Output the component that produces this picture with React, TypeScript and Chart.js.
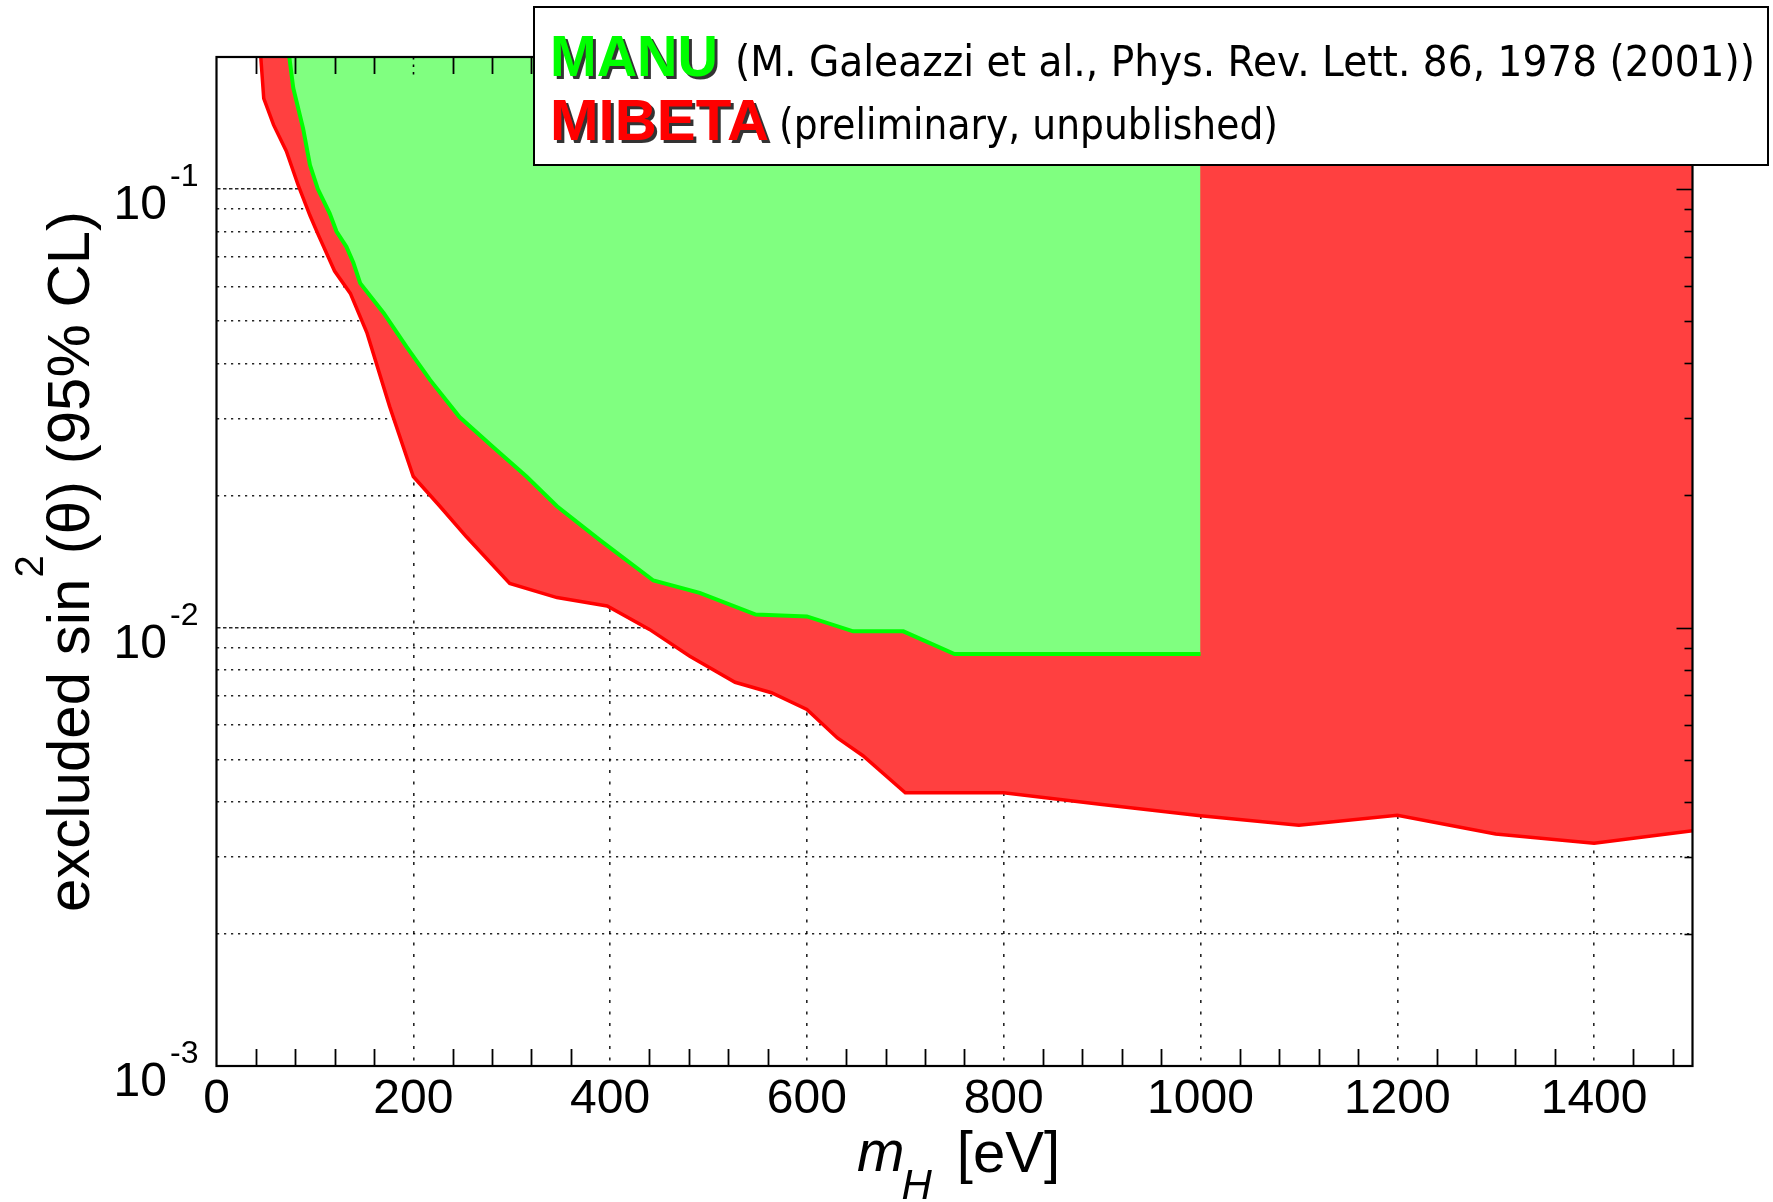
import { useEffect, useRef } from "react";
import { Chart, registerables } from "chart.js";

Chart.register(...registerables);

// MIBETA exclusion boundary (preliminary): mass [eV] vs excluded sin^2(theta)
const mibetaMass = [45, 48, 58, 71, 83, 95, 103, 120, 136, 153, 176, 200, 227, 254, 298, 346, 397, 440, 481, 527, 564, 600, 631, 657, 700, 800, 900, 1000, 1100, 1200, 1300, 1400, 1500];
const mibetaLimit = [0.2, 0.161, 0.14, 0.122, 0.102, 0.087, 0.079, 0.065, 0.0578, 0.0469, 0.0319, 0.0221, 0.0189, 0.0161, 0.0126, 0.0117, 0.0112, 0.0099, 0.0086, 0.0075, 0.0071, 0.0065, 0.0056, 0.0051, 0.0042, 0.0042, 0.00395, 0.00372, 0.00354, 0.00373, 0.00338, 0.00322, 0.00344];

// MANU exclusion boundary (Galeazzi et al. 2001)
const manuMass = [74, 78, 88, 95, 103, 115, 122, 132, 139, 146, 170, 193, 217, 247, 281, 315, 346, 390, 444, 491, 548, 600, 647, 698, 750, 1000];
const manuLimit = [0.2, 0.17, 0.1375, 0.1134, 0.1, 0.088, 0.08, 0.0739, 0.068, 0.061, 0.0521, 0.0437, 0.0367, 0.0302, 0.0258, 0.0221, 0.0189, 0.0158, 0.0128, 0.012, 0.0107, 0.0106, 0.0098, 0.0098, 0.0087, 0.0087];

// axis ticks
const xTickValues = [0, 200, 400, 600, 800, 1000, 1200, 1400];
const yGridValues = [0.001, 0.002, 0.003, 0.004, 0.005, 0.006, 0.007, 0.008, 0.009, 0.01, 0.02, 0.03, 0.04, 0.05, 0.06, 0.07, 0.08, 0.09, 0.1];
const yDecadeValues = [0.001, 0.01, 0.1];
const yDecadeExponents = ["-3", "-2", "-1"];

const X_MIN = 0;
const X_MAX = 1500;
const Y_MIN = 0.001;
const Y_MAX = 0.2;
const MINOR_X_STEP = 40;

const FONT = '"Liberation Sans", Arial, Helvetica, sans-serif';
const NOTE_FONT = '"DejaVu Sans", "Liberation Sans", sans-serif';

const isDecade = (v: number) => yDecadeValues.some((d) => Math.abs(d - v) < 1e-12);

function fittedText(ctx: CanvasRenderingContext2D, text: string, x: number, y: number, font: string, width: number) {
  ctx.font = font;
  const w = ctx.measureText(text).width;
  ctx.save();
  ctx.translate(x, y);
  ctx.scale(width / w, 1);
  ctx.fillText(text, 0, 0);
  ctx.restore();
}

function shadowedText(ctx: CanvasRenderingContext2D, text: string, x: number, y: number, width: number, color: string) {
  const font = `bold 57px ${FONT}`;
  ctx.fillStyle = "rgba(0,0,0,0.8)";
  fittedText(ctx, text, x + 3, y + 3, font, width);
  ctx.fillStyle = color;
  fittedText(ctx, text, x, y, font, width);
}

const framePlugin = {
  id: "frame",
  afterDatasetsDraw(chart: any) {
    const { ctx, chartArea } = chart;
    const { left, right, top, bottom } = chartArea;
    const xs = chart.scales.x;
    const ys = chart.scales.y;
    ctx.save();
    ctx.strokeStyle = "#000";
    // minor ticks on bottom and top edges
    ctx.lineWidth = 1.8;
    for (let v = MINOR_X_STEP; v < X_MAX; v += MINOR_X_STEP) {
      if (v % 200 === 0) continue;
      const px = Math.round(xs.getPixelForValue(v)) + 0.5;
      ctx.beginPath();
      ctx.moveTo(px, bottom);
      ctx.lineTo(px, bottom - 17);
      ctx.moveTo(px, top);
      ctx.lineTo(px, top + 17);
      ctx.stroke();
    }
    // dotted major ticks along the top edge
    ctx.setLineDash([2.5, 5]);
    ctx.lineWidth = 1.6;
    for (const v of xTickValues) {
      if (v === X_MIN) continue;
      const px = Math.round(xs.getPixelForValue(v)) + 0.5;
      ctx.beginPath();
      ctx.moveTo(px, top);
      ctx.lineTo(px, top + 18);
      ctx.stroke();
    }
    ctx.setLineDash([]);
    // short ticks on the right edge
    ctx.lineWidth = 1.6;
    for (const v of yGridValues) {
      if (v === Y_MIN) continue;
      const py = Math.round(ys.getPixelForValue(v)) + 0.5;
      ctx.beginPath();
      ctx.moveTo(right, py);
      ctx.lineTo(right - (isDecade(v) ? 16 : 8), py);
      ctx.stroke();
    }
    // plot box
    ctx.lineWidth = 2.2;
    ctx.strokeRect(left, top, right - left, bottom - top);
    ctx.restore();
  },
  afterDraw(chart: any) {
    const { ctx, chartArea } = chart;
    const ys = chart.scales.y;
    ctx.save();
    ctx.fillStyle = "#000";
    ctx.textBaseline = "alphabetic";

    // decade labels 10^n
    yDecadeValues.forEach((v, i) => {
      const py = ys.getPixelForValue(v);
      ctx.font = `48px ${FONT}`;
      ctx.textAlign = "right";
      ctx.fillText("10", 167, py + 30);
      ctx.font = `32px ${FONT}`;
      ctx.textAlign = "left";
      ctx.fillText(yDecadeExponents[i], 170, py - 3);
    });

    // y axis title
    ctx.textAlign = "left";
    const main = `60px ${FONT}`;
    const sup = `40px ${FONT}`;
    const p1 = "excluded sin";
    const p2 = "2";
    const p3 = "(\u03b8) (95% CL)";
    ctx.font = main;
    const w1 = ctx.measureText(p1).width;
    const w3 = ctx.measureText(p3).width;
    ctx.font = sup;
    const w2 = ctx.measureText(p2).width + 2;
    const total = w1 + w2 + w3;
    ctx.save();
    ctx.translate(89, (chartArea.top + chartArea.bottom) / 2);
    ctx.rotate(-Math.PI / 2);
    let cx = -total / 2;
    ctx.font = main;
    ctx.fillText(p1, cx, 0);
    cx += w1;
    ctx.font = sup;
    ctx.fillText(p2, cx + 1, -46);
    cx += w2;
    ctx.font = main;
    ctx.fillText(p3, cx, 0);
    ctx.restore();

    // x axis title: m_H [eV]
    const mFont = `italic 57px ${FONT}`;
    const hFont = `italic 42px ${FONT}`;
    const uFont = `58px ${FONT}`;
    ctx.font = mFont;
    const wm = ctx.measureText("m").width;
    ctx.font = hFont;
    const wh = ctx.measureText("H").width;
    ctx.font = uFont;
    const wu = ctx.measureText("[eV]").width;
    const gap = 22;
    const xt = wm + wh + gap + wu;
    let tx = (chartArea.left + chartArea.right) / 2 + 4 - xt / 2;
    ctx.font = mFont;
    ctx.fillText("m", tx, 1171);
    tx += wm - 3;
    ctx.font = hFont;
    ctx.fillText("H", tx, 1199);
    tx += wh + 3 + gap;
    ctx.font = uFont;
    ctx.fillText("[eV]", tx, 1172);

    // annotation box
    const bx = 534, by = 7, bw = 1234, bh = 158;
    ctx.fillStyle = "#fff";
    ctx.fillRect(bx, by, bw, bh);
    ctx.strokeStyle = "#000";
    ctx.lineWidth = 2;
    ctx.strokeRect(bx, by, bw, bh);

    shadowedText(ctx, "MANU", 550, 76, 168, "#00ff00");
    shadowedText(ctx, "MIBETA", 550, 140, 219, "#ff0000");
    ctx.fillStyle = "#000";
    fittedText(ctx, "(M. Galeazzi et al., Phys. Rev. Lett. 86, 1978 (2001))", 735, 76, `43px ${NOTE_FONT}`, 1020);
    fittedText(ctx, "(preliminary, unpublished)", 779, 139, `43px ${NOTE_FONT}`, 499);
    ctx.restore();
  },
};

export default function App() {
  const ref = useRef<HTMLCanvasElement | null>(null);

  useEffect(() => {
    document.body.style.margin = "0";
    const canvas = ref.current;
    if (!canvas) return;
    const chart = new Chart(canvas, {
      type: "line",
      data: {
        datasets: [
          {
            label: "MANU",
            data: manuMass.map((x, i) => ({ x, y: manuLimit[i] })),
            borderColor: "#00ff00",
            backgroundColor: "#80ff80",
            borderWidth: 4,
            fill: "end",
            pointRadius: 0,
            tension: 0,
            order: 0,
          },
          {
            label: "MIBETA",
            data: mibetaMass.map((x, i) => ({ x, y: mibetaLimit[i] })),
            borderColor: "#ff0000",
            backgroundColor: "#ff4040",
            borderWidth: 3.5,
            fill: "end",
            pointRadius: 0,
            tension: 0,
            order: 1,
          },
        ],
      },
      options: {
        animation: false,
        responsive: false,
        devicePixelRatio: 1,
        layout: { padding: { left: 0, top: 57, right: 80.5, bottom: 0 } },
        plugins: {
          legend: { display: false },
          tooltip: { enabled: false },
        },
        scales: {
          x: {
            type: "linear",
            min: X_MIN,
            max: X_MAX,
            afterBuildTicks: (s: any) => {
              s.ticks = xTickValues.map((value) => ({ value }));
            },
            afterFit: (s: any) => {
              s.height = 136;
            },
            grid: {
              drawTicks: false,
              lineWidth: 1.6,
              color: (c: any) => (c.tick && c.tick.value === X_MIN ? "rgba(0,0,0,0)" : "rgba(0,0,0,0.85)"),
            },
            border: { display: false, dash: [3, 8.5] },
            ticks: {
              autoSkip: false,
              maxRotation: 0,
              padding: 5,
              color: "#000",
              font: { family: FONT, size: 48 },
              callback: (v: any) => String(v),
            },
          },
          y: {
            type: "logarithmic",
            min: Y_MIN,
            max: Y_MAX,
            afterBuildTicks: (s: any) => {
              s.ticks = yGridValues.map((value) => ({ value, major: isDecade(value) }));
            },
            afterFit: (s: any) => {
              s.width = 216.5;
            },
            grid: {
              drawTicks: false,
              lineWidth: 1.5,
              color: (c: any) => (c.tick && c.tick.value === Y_MIN ? "rgba(0,0,0,0)" : "rgba(0,0,0,0.85)"),
            },
            border: {
              display: false,
              dash: (c: any) => (c.tick && isDecade(c.tick.value) ? [3.5, 2.5] : [2.2, 4.8]),
            },
            ticks: { display: false },
          },
        },
      },
      plugins: [framePlugin],
    } as any);
    return () => chart.destroy();
  }, []);

  return (
    <div style={{ width: 1773, height: 1202, background: "#fff", overflow: "hidden" }}>
      <canvas ref={ref} width={1773} height={1202} style={{ display: "block", width: 1773, height: 1202 }} />
    </div>
  );
}
